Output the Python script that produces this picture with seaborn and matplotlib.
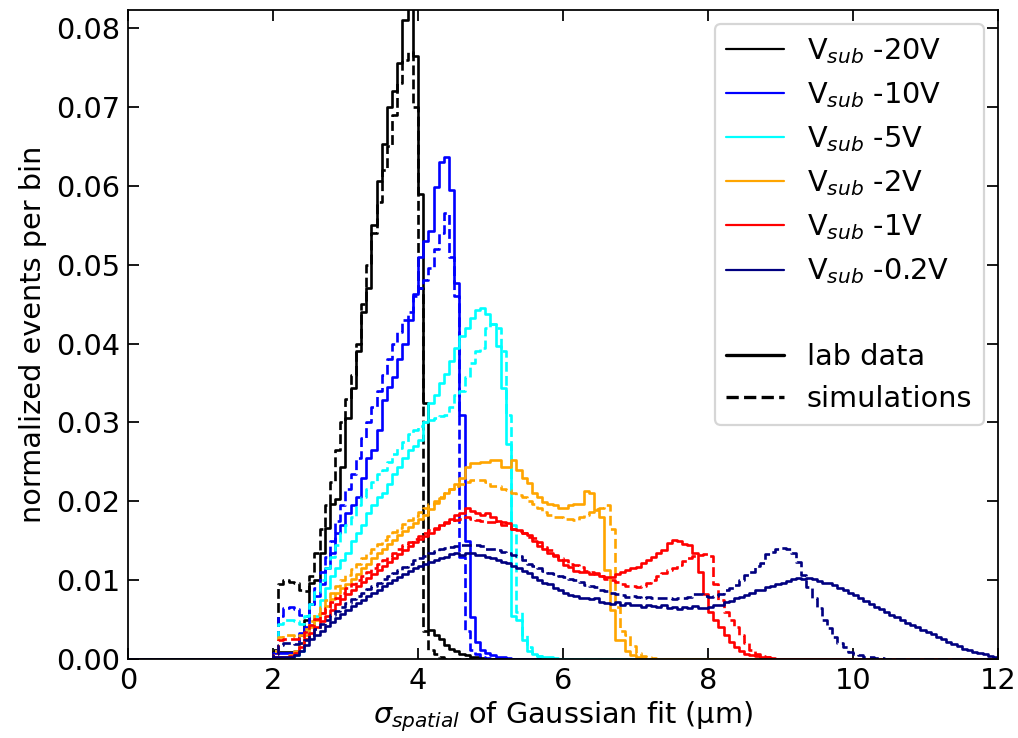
import numpy as np
import pandas as pd
import matplotlib
matplotlib.use("Agg")
import matplotlib.pyplot as plt
import seaborn as sns
from matplotlib.lines import Line2D

# ---- histogram binning (bins of 1/14 um between 0 and 12 um) ----
x_lo, x_hi, n_bins = 0.0, 12.0, 168
data_start = 2.0          # every series below starts at this bin edge
unit = 1e-4               # values are given in units of 1e-4

labels = [r"V$_{sub}$ -20V", r"V$_{sub}$ -10V", r"V$_{sub}$ -5V",
          r"V$_{sub}$ -2V", r"V$_{sub}$ -1V", r"V$_{sub}$ -0.2V"]
colors = ["black", "blue", "cyan", "orange", "red", "navy"]

# ---- lab data (solid) ----
lab_20 = [9, 9, 9, 9, 9, 30, 50, 96, 100, 134, 166, 197, 203, 243, 306, 344, 390, 440, 470, 550,
          606, 653, 700, 720, 756, 810, 880, 765, 590, 325, 37, 30, 25, 18, 13, 10, 7, 5, 3, 2, 1]
lab_10 = [8, 8, 8, 8, 10, 33, 40, 70, 80, 95, 115, 135, 160, 170, 185, 195, 205, 230, 255, 265,
          290, 328, 345, 357, 380, 400, 430, 463, 510, 530, 543, 598, 630, 636, 595, 477, 310, 150,
          53, 22, 12, 8, 5, 3, 2, 1]
lab_5 = [3, 3, 3, 3, 5, 10, 25, 43, 55, 75, 90, 105, 115, 125, 135, 150, 160, 170, 185, 195,
         205, 210, 222, 235, 243, 255, 265, 270, 278, 300, 325, 335, 350, 362, 378, 395, 410, 420,
         432, 442, 445, 438, 425, 397, 344, 273, 55, 50, 24, 10, 6, 4, 3, 2, 1]
lab_2 = [2, 3, 3, 5, 10, 20, 30, 40, 50, 58, 67, 76, 84, 90, 95, 101, 108, 115, 121, 128,
         135, 140, 146, 151, 157, 162, 167, 172, 177, 182, 190, 198, 204, 210, 216, 222,
         230, 243, 248, 248, 250, 250, 252, 252, 243, 243, 252, 240, 229, 223, 211, 205, 199, 197,
         195, 192, 192, 195, 197, 197, 213, 211, 189, 180, 113, 62, 24, 24, 10, 5, 3, 1]
lab_1 = [2, 3, 3, 4, 8, 15, 25, 33, 40, 48, 55, 62, 70, 76, 82, 88, 93, 98, 103, 108,
         113, 118, 123, 128, 133, 138, 143, 148, 152, 156, 160, 165, 170, 174, 178, 182,
         185, 191, 188, 185, 183, 185, 180, 175, 174, 172, 165, 163, 160, 157, 150, 143, 140, 134,
         131, 125, 119, 117, 112, 110, 110, 108, 109, 105, 104, 104, 108, 110, 113, 115, 117, 122,
         125, 129, 134, 138, 147, 151, 150, 146, 144, 134, 110, 83, 60, 50, 40, 30, 22, 15, 10,
         7, 5, 4, 3, 2, 1]
lab_02 = [2, 2, 2, 3, 5, 10, 18, 25, 30, 36, 42, 47, 52, 57, 62, 67, 71, 75, 80, 84,
          88, 92, 96, 100, 104, 108, 112, 115, 118, 120, 123, 126, 128, 130, 133, 134,
          132, 134, 134, 132, 132, 130, 128, 126, 123, 122, 118, 116, 112, 109, 104, 100, 97, 95, 90, 87,
          84, 81, 80, 78, 77, 76, 77, 72, 71, 70, 72, 69, 71, 68, 68, 66, 69, 67, 66, 68,
          65, 66, 64, 66, 65, 67, 65, 65, 66, 68, 68, 72, 74, 77, 79, 81, 84, 87, 88, 91,
          92, 95, 97, 99, 102, 103, 102, 103, 101, 99, 97, 96, 94, 90, 87, 84, 81, 77, 74, 70,
          66, 63, 60, 56, 53, 49, 46, 43, 41, 37, 34, 32, 28, 25, 22, 19, 17, 13, 11, 9, 8, 6, 4, 3]

# ---- simulations (dashed) ----
sim_20 = [12, 95, 100, 98, 96, 88, 86, 105, 135, 165, 195, 225, 265, 300, 330, 360, 400, 450, 500, 540,
          580, 620, 650, 690, 730, 760, 770, 700, 470, 35, 12, 6, 3]
sim_10 = [10, 55, 65, 66, 64, 56, 55, 70, 90, 110, 130, 150, 175, 195, 215, 235, 255, 280, 300, 320,
          340, 360, 380, 400, 415, 430, 440, 460, 470, 480, 496, 520, 540, 565, 510, 460, 130, 35,
          12, 6, 3, 1]
sim_5 = [10, 45, 50, 50, 48, 45, 55, 70, 85, 100, 115, 130, 145, 160, 170, 180, 195, 205, 215, 225,
         235, 240, 250, 260, 268, 275, 285, 290, 295, 300, 303, 305, 308,
         310, 320, 335, 340, 357, 375, 390, 395, 420, 425, 420, 390, 310, 170, 60, 30, 15, 8, 4, 2, 1]
sim_2 = [10, 28, 30, 30, 28, 30, 38, 48, 57, 66, 75, 84, 93, 100, 107, 114, 121, 128, 134, 140,
         146, 151, 156, 161, 166, 171, 176, 181, 186, 191, 196, 201, 206, 211, 216, 220,
         222, 224, 227, 227, 227, 225, 220, 220, 216, 214, 210, 208, 205, 200, 197, 192, 186, 183,
         180, 180, 178, 177, 176, 180, 183, 186, 190, 192, 195, 165, 66, 35, 30, 16, 8, 4, 2, 1]
sim_1 = [8, 24, 26, 26, 25, 27, 34, 43, 51, 58, 65, 72, 78, 84, 90, 95, 100, 105, 110, 115,
         120, 125, 130, 135, 140, 144, 148, 152, 156, 160, 163, 166, 170, 172, 174, 176,
         178, 180, 178, 176, 175, 174, 174, 172, 170, 170, 165, 162, 160, 155, 153, 148, 142, 138,
         132, 128, 125, 121, 119, 117, 112, 110, 108, 105, 102, 100, 98, 95, 93, 92, 91, 93,
         96, 100, 105, 109, 113, 116, 119, 124, 128, 131, 132, 133, 131, 95, 75, 60, 50, 40, 30,
         20, 12, 7, 4, 2, 1]
sim_02 = [6, 18, 20, 20, 19, 20, 24, 31, 38, 44, 50, 56, 61, 66, 71, 76, 80, 84, 89, 93,
          97, 101, 105, 109, 113, 117, 121, 125, 128, 131, 134, 137, 139, 141, 142, 143,
          144, 145, 144, 144, 143, 140, 140, 138, 136, 135, 132, 131, 125, 121, 118, 115, 112, 109, 108, 105,
          104, 102, 100, 98, 94, 92, 91, 88, 86, 84, 83, 81, 79, 80, 79, 78, 79, 78, 77, 78,
          77, 76, 77, 78, 79, 82, 83, 80, 79, 80, 83, 87, 90, 94, 100, 106, 110, 118, 122, 133,
          136, 140, 141, 140, 135, 123, 106, 91, 77, 65, 50, 39, 28, 20, 15, 9, 7, 5, 3, 2, 1, 1]

lab_series = [lab_20, lab_10, lab_5, lab_2, lab_1, lab_02]
sim_series = [sim_20, sim_10, sim_5, sim_2, sim_1, sim_02]

# ---- style ----
FS = 13
sns.set_style("ticks")
plt.rcParams.update({
    "font.family": ["DejaVu Sans"],
    "text.color": "black", "axes.labelcolor": "black",
    "xtick.color": "black", "ytick.color": "black", "axes.edgecolor": "black",
    "xtick.direction": "in", "ytick.direction": "in",
    "xtick.top": True, "ytick.right": True,
    "xtick.major.size": 5, "ytick.major.size": 5,
    "font.size": FS,
})

DPI = 159
fig, ax = plt.subplots(figsize=(1018 / DPI, 738 / DPI), dpi=DPI)
fig.subplots_adjust(left=0.1257, right=0.9804, bottom=0.107, top=0.9865)

edges = np.linspace(x_lo, x_hi, n_bins + 1)
centers = 0.5 * (edges[:-1] + edges[1:])
first = int(round((data_start - x_lo) / (x_hi - x_lo) * n_bins))


def full(vals):
    arr = np.zeros(n_bins)
    arr[first:first + len(vals)] = np.asarray(vals, dtype=float) * unit
    return arr


for color, lab, sim in zip(colors, lab_series, sim_series):
    for vals, ls in ((lab, "-"), (sim, "--")):
        df = pd.DataFrame({"sigma": centers, "w": full(vals)})
        sns.histplot(data=df, x="sigma", weights="w", bins=list(edges), element="step",
                     fill=False, color=color, linewidth=1.2, linestyle=ls, ax=ax)

ax.set_xlim(0, 12)
ax.set_ylim(0, 0.0823)
ax.set_xticks(np.arange(0, 13, 2))
ax.set_yticks(np.arange(0, 0.081, 0.01))
ax.yaxis.set_major_formatter(matplotlib.ticker.FormatStrFormatter("%.2f"))
ax.tick_params(labelsize=FS, width=0.8)
ax.set_xlabel(r"$\sigma_{spatial}$ of Gaussian fit (μm)", fontsize=FS, labelpad=2)
ax.set_ylabel("normalized events per bin", fontsize=FS, labelpad=4)

handles = [Line2D([], [], color=c, lw=1.0, label=l) for c, l in zip(colors, labels)]
handles.append(Line2D([], [], color="none", label=" "))
handles.append(Line2D([], [], color="black", lw=1.5, label="lab data"))
handles.append(Line2D([], [], color="black", lw=1.5, ls="--", label="simulations"))
ax.legend(handles=handles, loc="upper right", fontsize=FS, frameon=True)

fig.savefig("out.png", dpi=DPI)
